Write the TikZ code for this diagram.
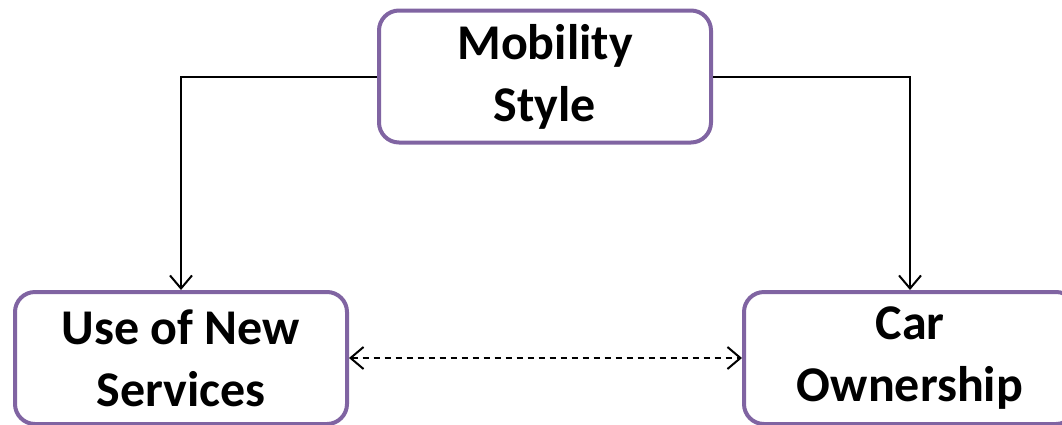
\documentclass[tikz,border=0pt]{standalone}
\usepackage{fontspec}
\setmainfont{Carlito}
\usetikzlibrary{arrows.meta}
\definecolor{boxpurple}{RGB}{128,100,162}
\tikzset{
  box/.style={draw=boxpurple, line width=4pt, rounded corners=20pt, fill=white,
    minimum width=332pt, minimum height=132pt, inner sep=0pt, align=center,
    font=\fontsize{50pt}{62pt}\selectfont\bfseries},
  conn/.style={line width=2pt, -{Straight Barb[length=13pt,width=22pt]}},
  dconn/.style={line width=2pt, dash pattern=on 6pt off 5pt,
    {Straight Barb[length=13pt,width=22pt]}-{Straight Barb[length=13pt,width=22pt]}}
}
\begin{document}
\begin{tikzpicture}[x=1pt,y=-1pt]
\useasboundingbox (0,0) rectangle (1062,424);
\clip (0,0) rectangle (1062,424);
\node[box] (mob) at (545,76.5) {Mobility\\Style};
\node[box] (use) at (181,358) {Use of New\\Services};
\node[box] (car) at (910,358) {Car\\Ownership};
\draw[conn] (mob.west) -| (use.north);
\draw[conn] (mob.east) -| (car.north);
\draw[dconn] (use.east) -- (car.west);
\end{tikzpicture}
\end{document}
